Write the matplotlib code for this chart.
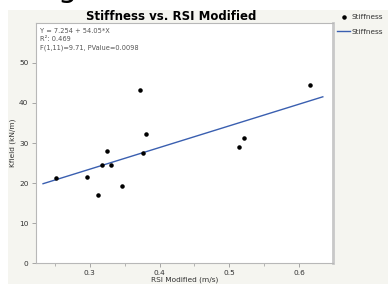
import matplotlib.pyplot as plt
from matplotlib.patches import Rectangle
from matplotlib.ticker import MultipleLocator

# RSI Modified (m/s) vs Kfield (kN/m)
rsi = [0.251, 0.2953, 0.3114, 0.3177, 0.3253, 0.3306, 0.3457, 0.3714,
       0.3763, 0.381, 0.5134, 0.5214, 0.6157]
kfield = [21.3, 21.4, 17.1, 24.5, 27.9, 24.4, 19.2, 43.1,
          27.4, 32.2, 28.9, 31.2, 44.4]

# fitted line: Y = 7.254 + 54.05*X
intercept = 7.254
slope = 54.05
fit_x = [0.233, 0.634]
fit_y = [intercept + slope * v for v in fit_x]

W, H = 388, 284
fig = plt.figure(figsize=(W / 100, H / 100), dpi=100, facecolor="white")

# beige panel background
fig.patches.append(Rectangle((8 / W, 0), 1 - 8 / W, 1 - 10 / H, transform=fig.transFigure,
                             facecolor="#f5f5f0", edgecolor="none", zorder=-1))

ax = fig.add_axes([35.5 / W, 1 - 263.3 / H, (333 - 35.5) / W, (263.3 - 22.7) / H])
ax.set_zorder(2)
ax.set_facecolor("white")

ax.scatter(rsi, kfield, s=5, color="black", zorder=3, label="Stiffness")
ax.plot(fit_x, fit_y, color="#3a5fb0", linewidth=1.0, label="Stiffness")

ax.set_xlim(0.2222, 0.6486)
ax.set_ylim(0, 60)
ax.xaxis.set_major_locator(MultipleLocator(0.1))
ax.xaxis.set_minor_locator(MultipleLocator(0.05))
ax.set_yticks([0, 10, 20, 30, 40, 50])

for side in ["left", "bottom", "top"]:
    ax.spines[side].set_color("#b8b8b8")
    ax.spines[side].set_linewidth(0.8)
ax.spines["right"].set_color("#c8c8c8")
ax.spines["right"].set_linewidth(2.0)

ax.tick_params(axis="both", which="major", length=3, width=0.6, color="#999999",
               labelsize=5.3, labelcolor="#333333", pad=2)
ax.tick_params(axis="x", which="minor", length=2, width=0.5, color="#999999")

ax.set_xlabel("RSI Modified (m/s)", fontsize=5.3, color="#333333", labelpad=0.5)
ax.set_ylabel("Kfield (kN/m)", fontsize=5.3, color="#333333", labelpad=2.5)

fig.text(171 / W, 1 - 16 / H, "Stiffness vs. RSI Modified", fontsize=8.5,
         fontweight="bold", ha="center", va="center")

# partial heading cut off at the top edge (as in the source image)
fig.text(67 / W, 1 + 3 / H, "g", fontsize=22, ha="center", va="baseline",
         color="black")

stats = ["Y = 7.254 + 54.05*X", "R\u00b2: 0.469", "F(1,11)=9.71, PValue=0.0098"]
for i, s in enumerate(stats):
    fig.text(39.5 / W, 1 - (31 + 8.3 * i) / H, s, fontsize=4.8, color="#555555",
             ha="left", va="center", zorder=5)

leg = fig.legend(loc="upper left", bbox_to_anchor=(337 / W, 1 - 14 / H), frameon=False,
                 fontsize=5.3, handlelength=1.8, handletextpad=0.2, labelspacing=1.15,
                 borderaxespad=0, borderpad=0)
for t in leg.get_texts():
    t.set_color("#333333")

plt.savefig("out.png", dpi=100, facecolor=fig.get_facecolor())
